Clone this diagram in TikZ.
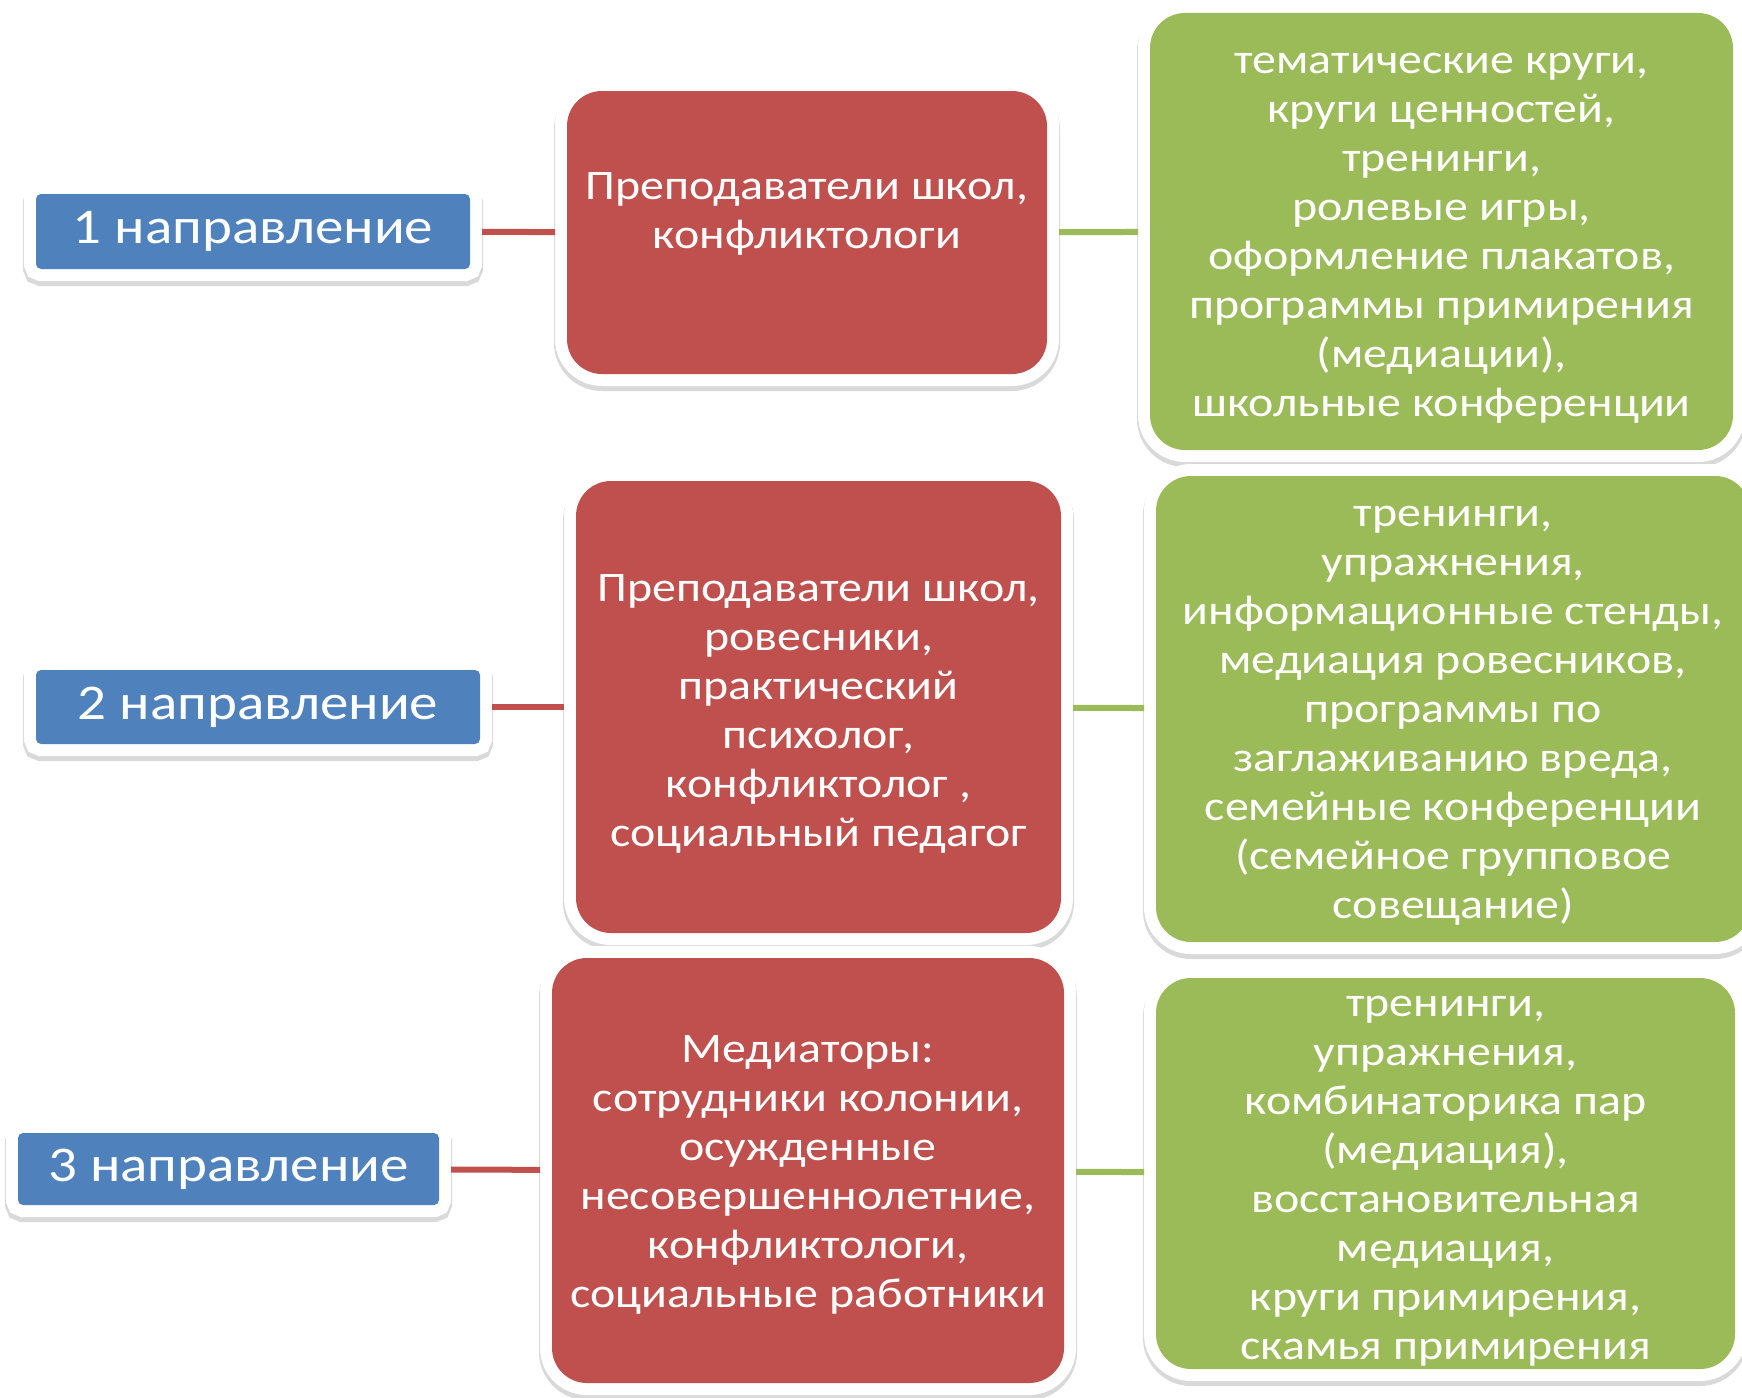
\documentclass[tikz,border=0pt]{standalone}
\usepackage{fontspec}
\setmainfont{Carlito}[FakeStretch=1.14]
\usepackage{tikz}
\usetikzlibrary{positioning}

\definecolor{dirblue}{HTML}{4F81BD}
\definecolor{whored}{HTML}{C0504D}
\definecolor{howgreen}{HTML}{9BBB59}

\tikzset{
  card/.style={rounded corners=#1, inner sep=0pt, outer sep=12pt,
    text=white, align=center,
    preaction={draw=black, opacity=0.15, line width=26pt, transform canvas={yshift=-4pt}},
    preaction={draw=white, line width=24pt}},
  dirbox/.style={card=5pt, fill=dirblue, font=\fontsize{50}{60}\selectfont},
  whobox/.style={card=35pt, fill=whored},
  howbox/.style={card=35pt, fill=howgreen},
  boxtext/.style={text=white, align=center, font=\fontsize{42}{49}\selectfont},
  redlink/.style={draw=whored, line width=6pt},
  greenlink/.style={draw=howgreen, line width=6pt}
}

\begin{document}
\begin{tikzpicture}[x=1pt, y=-1pt]
\useasboundingbox[fill=white] (0,0) rectangle (1742,1397);

% 1 direction
\node[dirbox, minimum width=434, minimum height=75] (b1) at (253,231.5) {1 направление};
\node[whobox, minimum width=480, minimum height=283] (r1) at (807,232.5) {};
\node[howbox, minimum width=583, minimum height=437] (g1) at (1441.5,231.5) {};
\node[boxtext] (t1) at (807,214) {Преподаватели школ,\\конфликтологи};
\node[boxtext] (t2) at (1441.5,238.5)
  {тематические круги,\\круги ценностей,\\тренинги,\\ролевые игры,\\оформление плакатов,\\программы примирения\\(медиации),\\школьные конференции};

% 2 direction
\node[dirbox, minimum width=444, minimum height=74] (b2) at (258,707) {2 направление};
\node[whobox, minimum width=485, minimum height=452] (r2) at (818.5,707) {};
\node[howbox, minimum width=594, minimum height=466] (g2) at (1453,709) {};
\node[boxtext] (t3) at (818.5,714)
  {Преподаватели школ,\\ровесники,\\практический\\психолог,\\конфликтолог ,\\социальный педагог};
\node[boxtext] (t4) at (1453,716)
  {тренинги,\\упражнения,\\информационные стенды,\\медиация ровесников,\\программы по\\заглаживанию вреда,\\семейные конференции\\(семейное групповое\\совещание)};

% 3 direction
\node[dirbox, minimum width=421, minimum height=72] (b3) at (228.5,1169) {3 направление};
\node[whobox, minimum width=512, minimum height=425] (r3) at (808,1170.5) {};
\node[howbox, minimum width=579, minimum height=391] (g3) at (1445.5,1173.5) {};
\node[boxtext] (t5) at (808,1175)
  {Медиаторы:\\сотрудники колонии,\\осужденные\\несовершеннолетние,\\конфликтологи,\\социальные работники};
\node[boxtext] (t6) at (1445.5,1181.5)
  {тренинги,\\упражнения,\\комбинаторика пар\\(медиация),\\восстановительная\\медиация,\\круги примирения,\\скамья примирения};

\draw[redlink] (b1) -- (r1);
\draw[greenlink] (r1) -- (g1);
\draw[redlink] (b2) -- (r2);
\draw[greenlink] (r2) -- (g2);
\draw[redlink] (b3) -- (r3);
\draw[greenlink] (r3) -- (g3);
\end{tikzpicture}
\end{document}
